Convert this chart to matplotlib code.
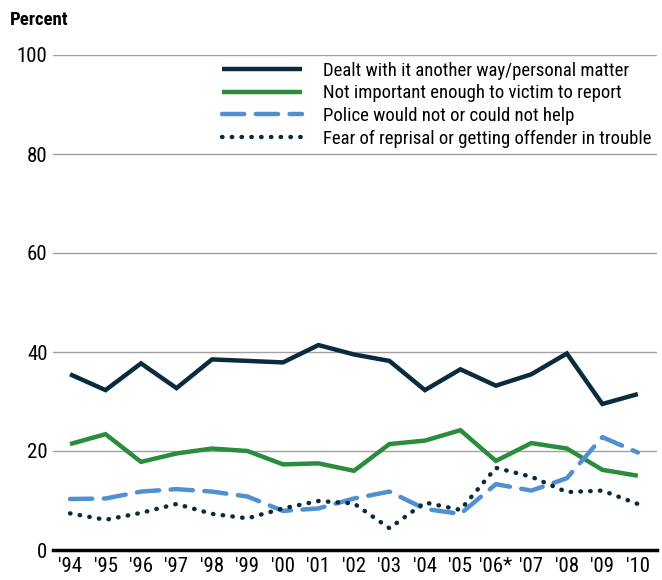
import matplotlib
matplotlib.use("Agg")
import matplotlib.pyplot as plt

years = ["'94", "'95", "'96", "'97", "'98", "'99", "'00", "'01", "'02",
         "'03", "'04", "'05", "'06*", "'07", "'08", "'09", "'10"]
dealt = [35.5, 32.3, 37.7, 32.7, 38.5, 38.2, 37.9, 41.4, 39.5,
         38.2, 32.3, 36.5, 33.2, 35.5, 39.7, 29.5, 31.5]
not_important = [21.4, 23.4, 17.8, 19.5, 20.5, 20.0, 17.3, 17.5, 16.0,
                 21.4, 22.1, 24.2, 18.0, 21.6, 20.5, 16.2, 15.0]
police = [10.3, 10.4, 11.8, 12.3, 11.8, 10.8, 7.9, 8.4, 10.4,
          11.8, 8.3, 7.3, 13.3, 12.0, 14.5, 22.8, 19.7]
fear = [7.4, 6.1, 7.5, 9.3, 7.3, 6.4, 8.4, 9.9, 9.4,
        4.4, 9.6, 8.1, 16.6, 14.8, 11.7, 12.0, 9.3]
labels = ["Dealt with it another way/personal matter",
          "Not important enough to victim to report",
          "Police would not or could not help",
          "Fear of reprisal or getting offender in trouble"]
yticks = [0, 20, 40, 60, 80, 100]

plt.rcParams['font.family'] = ['Roboto Condensed', 'DejaVu Sans']

navy = "#0a2b3d"
green = "#2a8c3c"
blue = "#4f8fd2"

fig = plt.figure(figsize=(6.62, 5.8), dpi=100)
ax = fig.add_axes([53/662, 1-550/580, (657-53)/662, (550-55)/580])
x = list(range(len(years)))
lw = 3.2
l1, = ax.plot(x, dealt, color=navy, lw=lw, solid_joinstyle='miter', solid_capstyle='butt', zorder=4)
l2, = ax.plot(x, not_important, color=green, lw=lw, solid_joinstyle='miter', solid_capstyle='butt', zorder=3)
l3, = ax.plot(x, police, color=blue, lw=lw, dashes=(5, 2.6), dash_capstyle='round', zorder=3)
l4, = ax.plot(x, fear, color=navy, lw=lw, dashes=(0.1, 2.1), dash_capstyle='round', zorder=3)

ax.set_xlim(-0.48, 16.54)
ax.set_ylim(0, 100)
ax.set_yticks(yticks)
ax.set_yticklabels([str(v) for v in yticks])
ax.set_xticks(x)
ax.set_xticklabels(years)
ax.tick_params(axis='both', length=0, labelsize=15, colors="#000000")
ax.tick_params(axis='y', pad=4)
ax.tick_params(axis='x', pad=5)
for v in yticks[1:]:
    ax.axhline(v, color="#a0a0a0", lw=1.0, zorder=1)
for s in ['top', 'right', 'left']:
    ax.spines[s].set_visible(False)
ax.spines['bottom'].set_linewidth(2.5)
ax.spines['bottom'].set_color("#000000")
ax.spines['bottom'].set_zorder(5)
ax.set_facecolor('white')

fig.text(10/662, 1-20/580, "Percent", fontsize=13.5, fontweight='bold', va='center', ha='left')

leg = ax.legend([l1, l2, l3, l4], labels, loc='upper left',
                bbox_to_anchor=((222-53)/604, (550-62)/495), frameon=False,
                fontsize=13.5, handlelength=4.27, handletextpad=1.1,
                labelspacing=0.24, borderaxespad=0, borderpad=0)
leg.set_zorder(6)

fig.savefig("out.png", dpi=100, facecolor='white')
